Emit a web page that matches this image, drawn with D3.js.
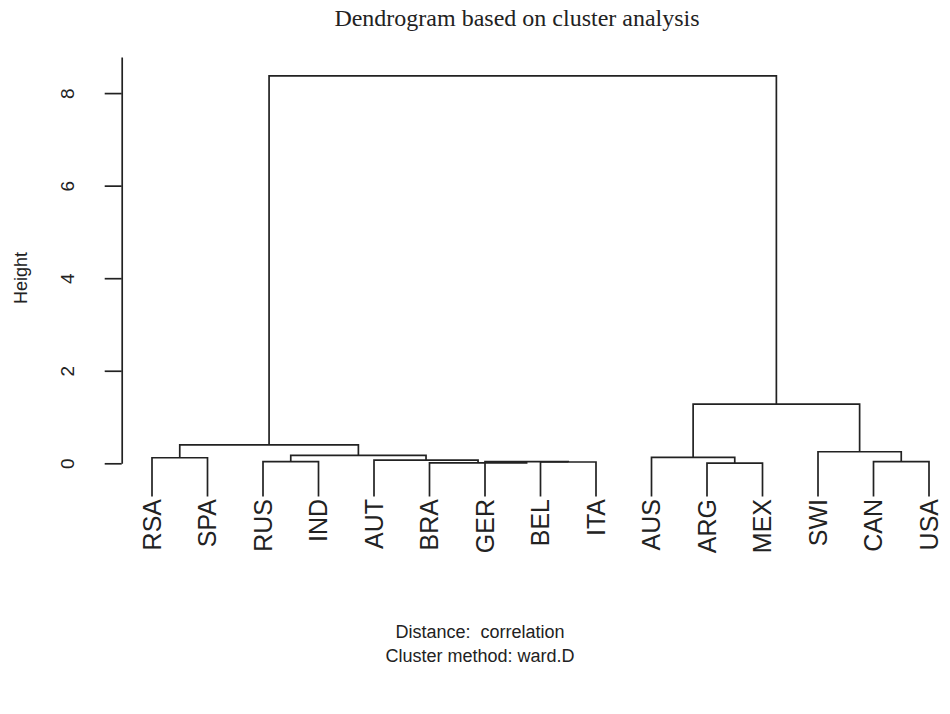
<!DOCTYPE html>
<html>
<head>
<meta charset="utf-8">
<script src="https://cdn.jsdelivr.net/npm/d3@7"></script>
<style>
  body { margin: 0; background: #fff; }
  text { fill: #222; }
</style>
</head>
<body>
<div id="chart"></div>
<script>
// leaves in plotting order
const labels = ["RSA", "SPA", "RUS", "IND", "AUT", "BRA", "GER", "BEL", "ITA",
                "AUS", "ARG", "MEX", "SWI", "CAN", "USA"];
// hclust-style merge table: negative = leaf (1-based), positive = earlier merge
const merges = [[-1, -2], [-3, -4], [-8, -9], [-7, 3], [-6, 4], [-5, 5], [2, 6],
                [1, 7], [-11, -12], [-10, 9], [-14, -15], [-13, 11], [10, 12], [8, 13]];
const mergeHeights = [0.12, 0.035, 0.028, 0.035, 0.01, 0.07, 0.17, 0.40,
                      0.005, 0.13, 0.035, 0.25, 1.28, 8.37];
const yTicks = [0, 2, 4, 6, 8];

const width = 950, height = 714;
const leafLevel = -0.72;

const svg = d3.select("#chart").append("svg")
    .attr("width", width)
    .attr("height", height);

const x = d3.scalePoint().domain(labels).range([152, 929]);
const y = d3.scaleLinear().domain([0, 8.78]).range([463.3, 57]);

// position of every node
const nodeX = [], nodeH = [];
function childPos(c) {
  if (c < 0) return {x: x(labels[-c - 1]), h: leafLevel};
  return {x: nodeX[c - 1], h: nodeH[c - 1]};
}
const links = merges.map(function(m, i) {
  const a = childPos(m[0]), b = childPos(m[1]);
  nodeX[i] = (a.x + b.x) / 2;
  nodeH[i] = mergeHeights[i];
  return {a: a, b: b, h: mergeHeights[i]};
});

svg.append("g").selectAll("path")
  .data(links)
  .enter().append("path")
    .attr("fill", "none")
    .attr("stroke", "#222")
    .attr("stroke-width", 1.7)
    .attr("d", function(d) {
      return "M" + d.a.x + "," + y(d.a.h) + "V" + y(d.h) + "H" + d.b.x + "V" + y(d.b.h);
    });

// leaf labels
svg.append("g").selectAll("text")
  .data(labels)
  .enter().append("text")
    .attr("transform", function(d) { return "translate(" + x(d) + ",499) rotate(-90)"; })
    .attr("text-anchor", "end")
    .attr("dy", "0.35em")
    .style("font", "25px 'Liberation Sans', Arial, sans-serif")
    .text(function(d) { return d; });

// y axis
const axis = svg.append("g")
    .attr("transform", "translate(121.7,0)")
    .call(d3.axisLeft(y).tickValues(yTicks).tickSize(17).tickSizeOuter(0));
axis.select(".domain").attr("stroke", "#222").attr("stroke-width", 1.7);
axis.selectAll(".tick line").attr("stroke", "#222").attr("stroke-width", 1.7);
axis.selectAll(".tick text")
    .attr("x", null).attr("dy", null)
    .attr("transform", "translate(-54,0) rotate(-90)")
    .attr("text-anchor", "middle")
    .attr("dy", "0.35em")
    .style("font", "19px 'Liberation Sans', Arial, sans-serif")
    .attr("fill", "#222");

svg.append("text")
    .attr("transform", "translate(21,278) rotate(-90)")
    .attr("text-anchor", "middle")
    .attr("dy", "0.35em")
    .style("font", "18px 'Liberation Sans', Arial, sans-serif")
    .text("Height");

svg.append("text")
    .attr("x", 517).attr("y", 26)
    .attr("text-anchor", "middle")
    .style("font", "24px 'Liberation Serif', 'Times New Roman', serif")
    .text("Dendrogram based on cluster analysis");

svg.append("text")
    .attr("x", 480).attr("y", 638)
    .attr("text-anchor", "middle")
    .style("font", "18px 'Liberation Sans', Arial, sans-serif")
    .style("white-space", "pre")
    .text("Distance:  correlation");

svg.append("text")
    .attr("x", 480).attr("y", 662)
    .attr("text-anchor", "middle")
    .style("font", "18px 'Liberation Sans', Arial, sans-serif")
    .text("Cluster method: ward.D");
</script>
</body>
</html>
